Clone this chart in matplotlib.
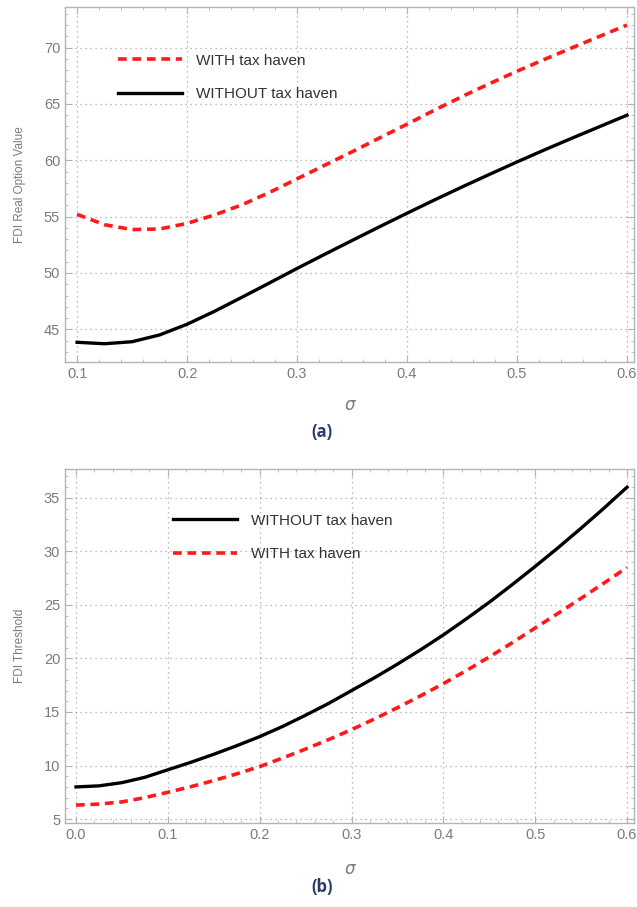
import matplotlib
matplotlib.use('Agg')
import matplotlib.pyplot as plt
from matplotlib.ticker import MultipleLocator

# panel (a): FDI real option value vs sigma
sigma_a = [0.100, 0.125, 0.150, 0.175, 0.200, 0.225, 0.250, 0.275, 0.300, 0.325, 0.350,
           0.375, 0.400, 0.425, 0.450, 0.475, 0.500, 0.525, 0.550, 0.575, 0.600]
value_with = [55.2, 54.28, 53.85, 53.9, 54.4, 55.15, 56.05, 57.15, 58.35, 59.55, 60.75,
              61.98, 63.2, 64.45, 65.65, 66.8, 67.9, 68.95, 69.98, 70.99, 72.0]
value_without = [43.85, 43.72, 43.9, 44.5, 45.45, 46.6, 47.85, 49.12, 50.4, 51.65, 52.88,
                 54.1, 55.3, 56.48, 57.63, 58.75, 59.85, 60.92, 61.96, 62.98, 64.0]

# panel (b): FDI threshold vs sigma
sigma_b = [0.000, 0.025, 0.050, 0.075, 0.100, 0.125, 0.150, 0.175, 0.200, 0.225, 0.250, 0.275,
           0.300, 0.325, 0.350, 0.375, 0.400, 0.425, 0.450, 0.475, 0.500, 0.525, 0.550, 0.575, 0.600]
thr_without = [8.0, 8.1, 8.4, 8.9, 9.6, 10.3, 11.05, 11.85, 12.7, 13.65, 14.7, 15.8,
               17.0, 18.2, 19.47, 20.8, 22.2, 23.7, 25.25, 26.9, 28.6, 30.35, 32.17, 34.05, 36.0]
thr_with = [6.3, 6.4, 6.6, 7.0, 7.5, 8.02, 8.6, 9.22, 9.9, 10.7, 11.54, 12.42,
            13.35, 14.35, 15.4, 16.5, 17.65, 18.87, 20.14, 21.47, 22.85, 24.22, 25.62, 27.05, 28.5]

label_with = 'WITH tax haven'
label_without = 'WITHOUT tax haven'

frame_col = '#b4b4b4'
tick_col = '#7a7a7a'
grid_col = '#a8a8a8'
red = '#ff1a1a'

plt.rcParams['font.family'] = ['Liberation Sans', 'DejaVu Sans']

fig = plt.figure(figsize=(6.37, 9.07), dpi=100)
W, H = 637.0, 907.0


def style_axes(ax, xlim, ylim, xmaj, xmin, ymaj, ymin):
    ax.set_xlim(*xlim)
    ax.set_ylim(*ylim)
    ax.xaxis.set_major_locator(MultipleLocator(xmaj))
    ax.xaxis.set_minor_locator(MultipleLocator(xmin))
    ax.yaxis.set_major_locator(MultipleLocator(ymaj))
    ax.yaxis.set_minor_locator(MultipleLocator(ymin))
    for s in ax.spines.values():
        s.set_color(frame_col)
        s.set_linewidth(1.0)
    ax.tick_params(which='both', direction='in', top=True, right=True, color=frame_col,
                   labelcolor=tick_col, labelsize=10.5)
    ax.tick_params(which='major', length=5, width=0.8)
    ax.tick_params(which='minor', length=2.5, width=0.6)
    ax.grid(True, which='major', linestyle=(0, (1, 3)), color=grid_col, linewidth=0.9)


# (a)
ax1 = fig.add_axes([65 / W, 1 - 362 / H, 569 / W, 355 / H])
ax1.plot(sigma_a, value_with, color=red, lw=2.6, dashes=(2.4, 1.6), label=label_with)
ax1.plot(sigma_a, value_without, color='black', lw=2.4, label=label_without)
style_axes(ax1, (0.089, 0.6064), (42.1, 73.6), 0.1, 0.02, 5, 1)
ax1.set_xticks([0.1, 0.2, 0.3, 0.4, 0.5, 0.6])
ax1.set_xticklabels(['0.1', '0.2', '0.3', '0.4', '0.5', '0.6'])
ax1.legend(loc='upper left', bbox_to_anchor=(0.093, 0.869), frameon=False, fontsize=11,
           handlelength=4.2, handletextpad=0.9, labelspacing=1.3, borderpad=0,
           borderaxespad=0, labelcolor='#333333')

# (b)
ax2 = fig.add_axes([65 / W, 1 - 823 / H, 569 / W, 354 / H])
ax2.plot(sigma_b, thr_without, color='black', lw=2.4, label=label_without)
ax2.plot(sigma_b, thr_with, color=red, lw=2.6, dashes=(2.4, 1.6), label=label_with)
style_axes(ax2, (-0.012, 0.6076), (4.63, 37.7), 0.1, 0.02, 5, 1)
ax2.legend(loc='upper left', bbox_to_anchor=(0.19, 0.874), frameon=False, fontsize=11,
           handlelength=4.2, handletextpad=0.9, labelspacing=1.3, borderpad=0,
           borderaxespad=0, labelcolor='#333333')

# axis labels
fig.text(20 / W, 1 - 185 / H, 'FDI Real Option Value', rotation=90, ha='center', va='center',
         fontsize=8.5, color=tick_col)
fig.text(20 / W, 1 - 646 / H, 'FDI Threshold', rotation=90, ha='center', va='center',
         fontsize=8.5, color=tick_col)
fig.text(350 / W, 1 - 406 / H, r'$\sigma$', ha='center', va='center', fontsize=12,
         color=tick_col, style='italic')
fig.text(350 / W, 1 - 869 / H, r'$\sigma$', ha='center', va='center', fontsize=12,
         color=tick_col, style='italic')
fig.text(322 / W, 1 - 432 / H, '(a)', ha='center', va='center', fontsize=12,
         fontweight='bold', color='#2b3a67', family=['Open Sans', 'DejaVu Sans'])
fig.text(322 / W, 1 - 887 / H, '(b)', ha='center', va='center', fontsize=12,
         fontweight='bold', color='#2b3a67', family=['Open Sans', 'DejaVu Sans'])

fig.savefig('out.png', dpi=100)
